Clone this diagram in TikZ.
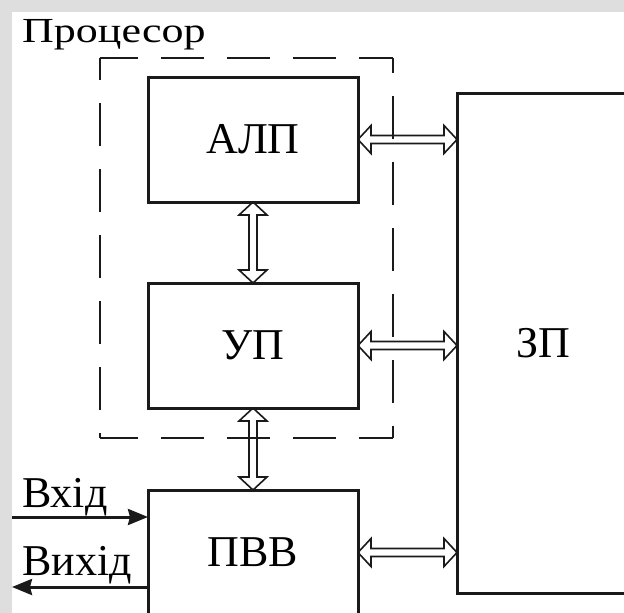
\documentclass[tikz,border=0pt]{standalone}
\usepackage{fontspec}
\setmainfont{Liberation Serif}
\usepackage{graphicx}
\usepackage{xcolor}
\usetikzlibrary{arrows.meta,positioning,calc}

\definecolor{pagegray}{RGB}{222,222,222}
\definecolor{ink}{RGB}{26,26,26}
\newcommand\bushead{13pt}
\newcommand\buswing{14pt}
\newcommand\busshaft{4pt}

\begin{document}
\begin{tikzpicture}[
    x=1pt, y=-1pt,
    font=\fontsize{44}{50}\selectfont,
    node distance=81pt,
    blk/.style={draw=ink, line width=3pt, minimum width=210pt, minimum height=125pt,
                inner sep=0pt, outer sep=0pt},
    mem/.style={draw=ink, line width=3pt, minimum width=172pt, minimum height=500pt,
                inner sep=0pt, outer sep=0pt},
    cpubox/.style={inner sep=0pt, outer sep=0pt},
    frame/.style={draw=ink, line width=2pt, dash pattern=on 43pt off 23pt},
    lbl/.style={anchor=base west, inner sep=0pt},
    sig/.style={-{Stealth[length=20pt, width=16pt, inset=2pt]}, line width=3pt, draw=ink},
    bus/.style={draw=ink, line width=1.6pt, line join=miter, to path={
        ($(\tikztostart)!\bushead!(\tikztotarget)$) coordinate (b1)
        ($(\tikztotarget)!\bushead!(\tikztostart)$) coordinate (b2)
        (\tikztostart) -- ($(b1)!\buswing!90:(\tikztotarget)$)
        -- ($(b1)!\busshaft!90:(\tikztotarget)$) -- ($(b2)!\busshaft!-90:(\tikztostart)$)
        -- ($(b2)!\buswing!-90:(\tikztostart)$) -- (\tikztotarget)
        -- ($(b2)!\buswing!90:(\tikztostart)$) -- ($(b2)!\busshaft!90:(\tikztostart)$)
        -- ($(b1)!\busshaft!-90:(\tikztotarget)$) -- ($(b1)!\buswing!-90:(\tikztotarget)$)
        -- cycle}}
]
\useasboundingbox (0,0) rectangle (624,613);
\fill[pagegray] (0,0) rectangle (624,613);
\fill[white] (12,12) rectangle (624,613);
\clip (0,0) rectangle (624,613);

% blocks
\node[blk] (alp) at (253,139.5) {АЛП};
\node[blk, below=of alp] (up) {УП};
\node[blk, below=82pt of up] (pvv) {ПВВ};
\node[mem] (zp) at (543,343) {ЗП};

% buses
\draw[bus] (alp.east) to (alp.east -| zp.west);
\draw[bus] (up.east) to (up.east -| zp.west);
\draw[bus] (pvv.east) to (pvv.east -| zp.west);
\draw[bus] (alp.south) to (up.north);
\draw[bus] (up.south) to (pvv.north);

% processor frame, each side dashed on its own
\node[cpubox, minimum width=293pt, minimum height=380pt] (cpu) at (246.5,248) {};
\draw[frame, dash phase=5pt] (cpu.north west) -- (cpu.north east);
\draw[frame, dash phase=5pt] (cpu.south west) -- (cpu.south east);
\draw[frame, dash phase=21pt] (cpu.north west) -- (cpu.south west);
\draw[frame, dash phase=28pt] (cpu.north east) -- (cpu.south east);
\node[lbl] (cpulbl) at (22,42) {\scalebox{1}[0.8]{Процесор}};

% input / output
\coordinate (in) at (12,517);
\coordinate (out) at (12,587);
\draw[sig] (in) -- (in -| pvv.west);
\draw[sig] (out -| pvv.west) -- (out);
\node[lbl] (inlbl) at (22,507) {Вхід};
\node[lbl] (outlbl) at (22,575) {Вихід};
\end{tikzpicture}
\end{document}
